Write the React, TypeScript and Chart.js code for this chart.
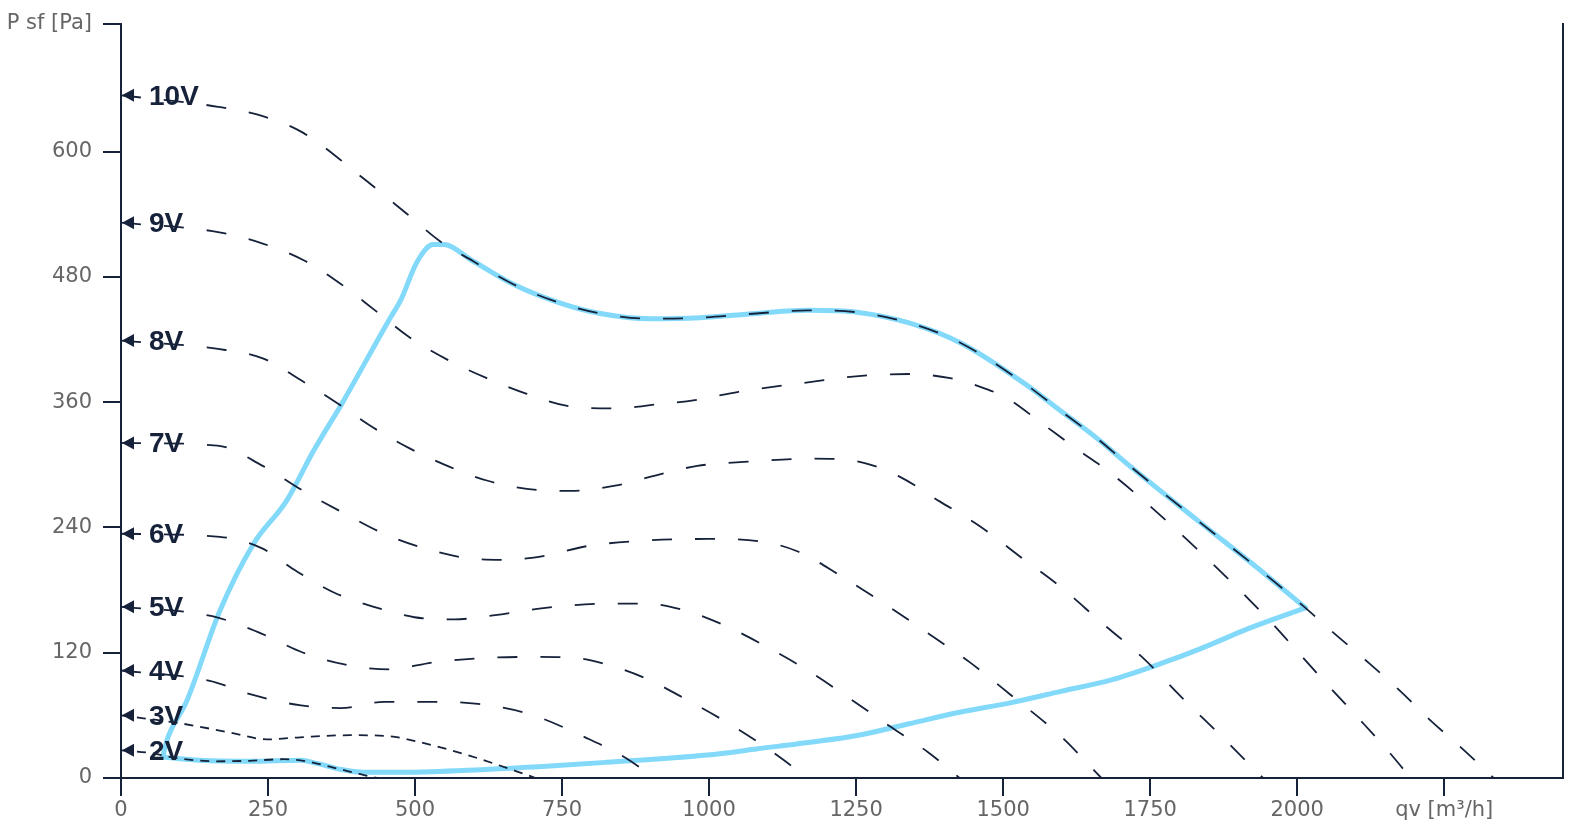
import React, { useEffect, useRef } from "react";
import { Chart, registerables } from "chart.js";

Chart.register(...registerables);

// ---- tick values / labels ----
const X_TICKS = [0, 250, 500, 750, 1000, 1250, 1500, 1750, 2000, 2250];
const Y_TICKS = [0, 120, 240, 360, 480, 600, 722.7];
const X_UNIT_LABEL = "qv [m³/h]";
const Y_UNIT_LABEL = "P sf [Pa]";

// ---- fan curves (qv [m3/h], Psf [Pa]) ----
const Q_2V = [0, 50, 95, 163, 219, 276, 316, 361, 415, 435];
const P_2V = [26.5, 24, 19, 16, 16.5, 18, 16, 10, 2.6, 0];

const Q_3V = [0, 105, 190, 248, 305, 390, 458, 503, 589, 692, 705];
const P_3V = [60, 52, 43, 37, 39, 41, 40, 35, 22, 2.6, 0];

const Q_4V = [0, 151, 221, 306, 374, 447, 532, 607, 696, 791, 859, 907];
const P_4V = [103, 93, 80, 69.5, 67, 73, 73, 71, 61, 38.5, 19, 0];

const Q_5V = [0, 155, 232, 310, 378, 456, 533, 619, 705, 773, 830, 894, 962, 1031, 1100, 1168];
const P_5V = [164, 155, 140, 120, 109, 104, 111, 115, 116, 115, 108, 95, 75, 53, 28, 0];

const Q_6V = [0, 168, 240, 296, 361, 430, 499, 567, 636, 722, 825, 894, 962, 1031, 1100, 1168, 1237, 1306, 1374, 1426];
const P_6V = [234, 231, 220, 199, 178, 164, 154, 152, 156, 163, 167, 167, 160, 145, 125, 103, 77, 50, 24, 0];

const Q_7V = [0, 164, 241, 310, 378, 447, 516, 585, 653, 722, 791, 877, 997, 1083, 1151, 1220, 1306, 1374, 1443, 1512, 1598, 1667];
const P_7V = [321, 318.5, 299, 275, 254, 234, 220, 211, 209, 213, 222, 227, 229, 227, 217, 195, 164, 138, 111, 80, 40, 0];

const Q_8V = [0, 165, 241, 309, 368, 428, 490, 559, 622, 690, 765, 840, 910, 980, 1066, 1177, 1263, 1323, 1392, 1461, 1529, 1598, 1667, 1736, 1804, 1873, 1942];
const P_8V = [419, 411, 402, 380, 359, 336, 316, 298, 285, 277, 275, 280, 290, 299, 303, 306, 302, 289, 265, 241, 212, 183, 149, 116, 77, 39, 0];

const Q_9V = [0, 165, 241, 314, 372, 432, 491, 554, 622, 690, 763, 838, 913, 976, 1050, 1168, 1254, 1340, 1410, 1460, 1506, 1563, 1623, 1683, 1819, 1956, 2007, 2057, 2108, 2159, 2193];
const P_9V = [532, 523, 512, 495, 474, 448, 422, 401, 383, 368, 356, 354, 358, 362, 370, 379, 385, 387, 383, 375, 364, 341, 316, 292, 225, 149, 117, 86, 55, 23, 0];

const Q_10V = [0, 165, 241, 310, 413, 487, 543, 599, 667, 747, 815, 900, 985, 1080, 1168, 1254, 1340, 1427, 1536, 1597, 1656, 1713, 1830, 1946, 2014, 2060, 2116, 2174, 2227, 2283, 2334];
const P_10V = [654, 643, 634, 618, 574, 540, 514, 495, 473, 455, 445, 440, 441, 445, 448, 446, 436, 417, 378, 352, 327, 300, 247, 195, 163, 140, 113, 84, 55, 27, 0];

// ---- working range envelope (light blue) ----
const Q_RANGE_UPPER = [71, 78, 112, 168, 225, 282, 327, 378, 458, 475, 504, 531, 548, 599, 667, 747, 815, 900, 985, 1080, 1168, 1254, 1340, 1427, 1536, 1597, 1656, 1713, 1830, 1946, 2014];
const P_RANGE_UPPER = [20, 36, 74, 160, 224, 266, 313, 361, 441, 457, 495, 511, 511, 495, 473, 455, 445, 440, 441, 445, 448, 446, 436, 417, 378, 352, 327, 300, 247, 195, 163];

const Q_RANGE_LOWER = [71, 134, 219, 305, 333, 373, 412, 475, 589, 730, 825, 997, 1083, 1168, 1254, 1340, 1426, 1512, 1598, 1684, 1770, 1836, 1921, 2014];
const P_RANGE_LOWER = [20, 17, 16, 17, 14, 8.3, 5.4, 5.4, 7.4, 11.5, 15, 22, 28, 34, 41, 52, 63, 72, 83, 94, 110, 124, 144, 163];

const CURVE_LABELS = ["2V", "3V", "4V", "5V", "6V", "7V", "8V", "9V", "10V"];
const CURVE_Q = [Q_2V, Q_3V, Q_4V, Q_5V, Q_6V, Q_7V, Q_8V, Q_9V, Q_10V];
const CURVE_P = [P_2V, P_3V, P_4V, P_5V, P_6V, P_7V, P_8V, P_9V, P_10V];

const NAVY = "#16213a";
const BLUE = "#82d9f9";
const GREY = "#666666";

const toPoints = (qs: number[], ps: number[]) => qs.map((q, i) => ({ x: q, y: ps[i] }));

const voltLabelPlugin = {
  id: "voltLabels",
  afterDatasetsDraw(chart: any) {
    const ctx = chart.ctx;
    chart.data.datasets.forEach((ds: any, i: number) => {
      if (!ds.isCurve) return;
      const meta = chart.getDatasetMeta(i);
      const p = meta.data[0];
      if (!p) return;
      const x = p.x;
      const y = p.y;
      ctx.save();
      ctx.fillStyle = NAVY;
      ctx.beginPath();
      ctx.moveTo(x + 1, y);
      ctx.lineTo(x + 13, y - 6.5);
      ctx.lineTo(x + 13, y + 6.5);
      ctx.closePath();
      ctx.fill();
      ctx.font = 'bold 28px "Liberation Sans", Arial, sans-serif';
      ctx.textBaseline = "middle";
      ctx.textAlign = "left";
      ctx.fillText(ds.label, x + 28, y + 1.5);
      ctx.restore();
    });
  },
};

export default function App() {
  const canvasRef = useRef<HTMLCanvasElement | null>(null);

  useEffect(() => {
    document.body.style.margin = "0";
    const canvas = canvasRef.current;
    if (!canvas) return;

    const curveDatasets = CURVE_LABELS.map((label, i) => ({
      label,
      isCurve: true,
      data: toPoints(CURVE_Q[i], CURVE_P[i]),
      showLine: true,
      borderColor: NAVY,
      borderWidth: 1.8,
      borderDash: i < 2 ? [9, 7] : [20, 23],
      borderCapStyle: "butt",
      pointRadius: 0,
      pointHoverRadius: 0,
      cubicInterpolationMode: "monotone",
      fill: false,
      order: 1,
    }));

    const rangeDatasets = [
      { label: "range-upper", data: toPoints(Q_RANGE_UPPER, P_RANGE_UPPER) },
      { label: "range-lower", data: toPoints(Q_RANGE_LOWER, P_RANGE_LOWER) },
    ].map((d) => ({
      ...d,
      isCurve: false,
      showLine: true,
      borderColor: BLUE,
      borderWidth: 5,
      borderCapStyle: "round",
      borderJoinStyle: "round",
      pointRadius: 0,
      pointHoverRadius: 0,
      cubicInterpolationMode: "monotone",
      fill: false,
      order: 10,
    }));

    const tickFont = { family: '"DejaVu Sans", sans-serif', size: 21, lineHeight: 1.2 };

    const chart = new Chart(canvas, {
      type: "scatter",
      data: { datasets: [...curveDatasets, ...rangeDatasets] as any },
      plugins: [voltLabelPlugin],
      options: {
        animation: false,
        responsive: false,
        maintainAspectRatio: false,
        layout: { padding: { top: 22, right: 21, left: 0, bottom: 0 } },
        plugins: { legend: { display: false }, tooltip: { enabled: false } },
        events: [],
        scales: {
          x: {
            type: "linear",
            position: "bottom",
            min: 0,
            max: 2452,
            afterBuildTicks: (s: any) => {
              s.ticks = X_TICKS.map((v) => ({ value: v }));
            },
            afterFit: (s: any) => {
              s.height = 54;
            },
            ticks: {
              autoSkip: false,
              maxRotation: 0,
              color: GREY,
              font: tickFont,
              padding: 2,
              callback: (v: any) => (v === 2250 ? X_UNIT_LABEL : String(v)),
            },
            grid: { drawOnChartArea: false, drawTicks: true, tickLength: 18, color: NAVY, lineWidth: 2 },
            border: { display: true, color: NAVY, width: 2 },
          },
          y: {
            type: "linear",
            position: "left",
            min: 0,
            max: 722.7,
            afterBuildTicks: (s: any) => {
              s.ticks = Y_TICKS.map((v) => ({ value: v }));
            },
            afterFit: (s: any) => {
              s.width = 121;
            },
            ticks: {
              autoSkip: false,
              color: GREY,
              font: tickFont,
              padding: 11,
              callback: (v: any) => (v > 700 ? Y_UNIT_LABEL : String(v)),
            },
            grid: { drawOnChartArea: false, drawTicks: true, tickLength: 18, color: NAVY, lineWidth: 2 },
            border: { display: true, color: NAVY, width: 2 },
          },
          y2: {
            type: "linear",
            position: "right",
            min: 0,
            max: 722.7,
            afterFit: (s: any) => {
              s.width = 0;
            },
            ticks: { display: false },
            grid: { display: false },
            border: { display: true, color: NAVY, width: 2 },
          },
        },
      } as any,
    });

    return () => {
      chart.destroy();
    };
  }, []);

  return (
    <div style={{ width: 1584, height: 832 }}>
      <canvas ref={canvasRef} width={1584} height={832} style={{ display: "block" }} />
    </div>
  );
}
